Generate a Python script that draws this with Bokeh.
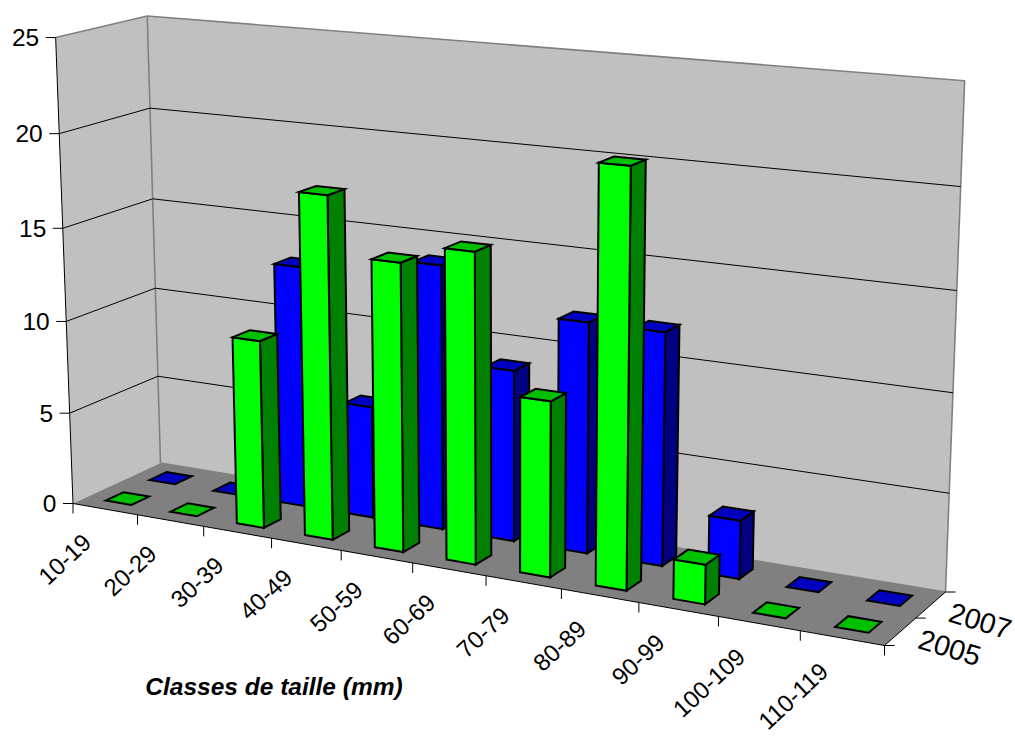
import numpy as np
from bokeh.plotting import figure
from bokeh.embed import file_html
from bokeh.resources import INLINE
from bokeh.core.properties import value

categories = ["10-19", "20-29", "30-39", "40-49", "50-59", "60-69", "70-79", "80-89", "90-99", "100-109", "110-119"]
series_names = ["2005", "2007"]
values_2005 = [0, 0, 10, 18, 15, 16, 9, 21, 2, 0, 0]
values_2007 = [0, 0, 13, 6, 14, 9, 12, 12, 3, 0, 0]
y_ticks = [0, 5, 10, 15, 20, 25]
axis_title = "Classes de taille (mm)"

FONT = "Liberation Sans"
Y_MAX = 25.0
W, H = 1015, 736

# pinhole model of the chart's box, fitted on its visible corners
floor_px = np.array([[72.5, 503], [160, 462.5], [945, 591.5], [884, 645]], float)
top_px = np.array([[55, 36], [147, 15], [964, 82]], float)
top_uv = [(0, 0), (0, 1), (1, 1)]
floor_uv = [(0, 0), (0, 1), (1, 1), (1, 0)]

A = []; b = []
for (u, v), (x, y) in zip(floor_uv, floor_px):
    A.append([u, v, 1, 0, 0, 0, -u * x, -v * x]); b.append(x)
    A.append([0, 0, 0, u, v, 1, -u * y, -v * y]); b.append(y)
h = np.linalg.solve(np.array(A), np.array(b))
Hm = np.array([[h[0], h[1], h[2]], [h[3], h[4], h[5]], [h[6], h[7], 1.0]])
A = []; b = []
for (u, v), (x, y) in zip(top_uv, top_px):
    N = Hm @ np.array([u, v, 1.0])
    A.append([1, 0, -x]); b.append(x * N[2] - N[0])
    A.append([0, 1, -y]); b.append(y * N[2] - N[1])
W3 = np.linalg.lstsq(np.array(A), np.array(b), rcond=None)[0]


def proj(u, v, val):
    w = val / Y_MAX
    N = Hm @ np.array([u, v, 1.0]) + w * W3
    return N[0] / N[2], N[1] / N[2]


def poly(pts):
    p_ = [proj(*q) for q in pts]
    return [a for a, _ in p_], [c for _, c in p_]


p = figure(width=W, height=H, x_range=(0, W), y_range=(H, 0),
           output_backend="svg", toolbar_location=None, min_border=0,
           outline_line_color=None, background_fill_color="white")
p.axis.visible = False
p.grid.visible = False

# walls and floor
left_wall = poly([(0, 0, 0), (0, 1, 0), (0, 1, Y_MAX), (0, 0, Y_MAX)])
back_wall = poly([(0, 1, 0), (1, 1, 0), (1, 1, Y_MAX), (0, 1, Y_MAX)])
floor = poly([(0, 0, 0), (0, 1, 0), (1, 1, 0), (1, 0, 0)])
p.patches([left_wall[0], back_wall[0]], [left_wall[1], back_wall[1]], fill_color="#C0C0C0", line_color=None)
p.patches([floor[0]], [floor[1]], fill_color="#808080", line_color=None)

# grey wall borders
gx, gy = [], []
for seg in ([(0, 0, Y_MAX), (0, 1, Y_MAX), (1, 1, Y_MAX), (1, 1, 0), (0, 1, 0), (0, 1, Y_MAX)],):
    a_, c_ = poly(seg); gx.append(a_); gy.append(c_)
p.multi_line(gx, gy, line_color="#808080", line_width=1.6)

# gridlines
gx, gy = [], []
for t in y_ticks[1:-1]:
    a_, c_ = poly([(0, 0, t), (0, 1, t), (1, 1, t)]); gx.append(a_); gy.append(c_)
p.multi_line(gx, gy, line_color="black", line_width=1)

# axis lines
ax_x, ax_y = [], []
for seg in ([(0, 0, 0), (0, 0, Y_MAX)], [(0, 0, 0), (1, 0, 0), (1, 1, 0)]):
    a_, c_ = poly(seg); ax_x.append(a_); ax_y.append(c_)
TICK = 10
n = len(categories)
for i in range(n + 1):
    x0, y0 = proj(i / n, 0, 0)
    ax_x.append([x0, x0]); ax_y.append([y0, y0 + TICK])
for j in range(len(series_names) + 1):
    x0, y0 = proj(1, j / len(series_names), 0)
    ax_x.append([x0, x0 + TICK]); ax_y.append([y0, y0])
for t in y_ticks:
    x0, y0 = proj(0, 0, t)
    ax_x.append([x0 - TICK, x0]); ax_y.append([y0, y0])
p.multi_line(ax_x, ax_y, line_color="black", line_width=1)

# bars, back series first
GAP = 0.3
palette = {0: ("#00FF00", "#00C000", "#008000"), 1: ("#0000FF", "#0000C0", "#000080")}
for s, vals in [(1, values_2007), (0, values_2005)]:
    v0, v1 = (s + GAP) / 2, (s + 1 - GAP) / 2
    for i, val in enumerate(vals):
        u0, u1 = (i + GAP) / n, (i + 1 - GAP) / n
        front, topc, side = palette[s]
        xs, ys, cols = [], [], []
        if val > 0:
            a_, c_ = poly([(u1, v0, 0), (u1, v1, 0), (u1, v1, val), (u1, v0, val)])
            xs.append(a_); ys.append(c_); cols.append(side)
            a_, c_ = poly([(u0, v0, 0), (u1, v0, 0), (u1, v0, val), (u0, v0, val)])
            xs.append(a_); ys.append(c_); cols.append(front)
        a_, c_ = poly([(u0, v0, val), (u1, v0, val), (u1, v1, val), (u0, v1, val)])
        xs.append(a_); ys.append(c_); cols.append(topc)
        p.patches(xs, ys, fill_color=cols, line_color="black", line_width=2, line_join="miter")

# texts
tx, ty, tt = [], [], []
for t in y_ticks:
    x0, y0 = proj(0, 0, t)
    tx.append(x0 - 16.5); ty.append(y0); tt.append(str(t))
p.text(tx, ty, tt, text_font=value(FONT), text_font_size="24.5px", text_color="black",
       text_align="right", text_baseline="middle")

cx, cy = [], []
for i in range(n):
    x0, y0 = proj((i + 0.5) / n, 0, 0)
    cx.append(x0 - 18); cy.append(y0 + 29)
p.text(cx, cy, categories, angle=0.75, text_font=value(FONT), text_font_size="24px", text_color="black",
       text_align="right", text_baseline="middle")

sx, sy = [], []
for j in range(len(series_names)):
    x0, y0 = proj(1, (j + 0.5) / len(series_names), 0)
    sx.append(x0 + 19); sy.append(y0 + 7)
p.text(sx, sy, series_names, angle=-0.3, text_font=value(FONT), text_font_size="28.5px", text_color="black",
       text_align="left", text_baseline="middle")

p.text([273.5], [686], [axis_title], text_font=value(FONT), text_font_size="24.5px", text_font_style="bold italic",
       text_color="black", text_align="center", text_baseline="middle")

open("out.html", "w").write(file_html(p, INLINE))
